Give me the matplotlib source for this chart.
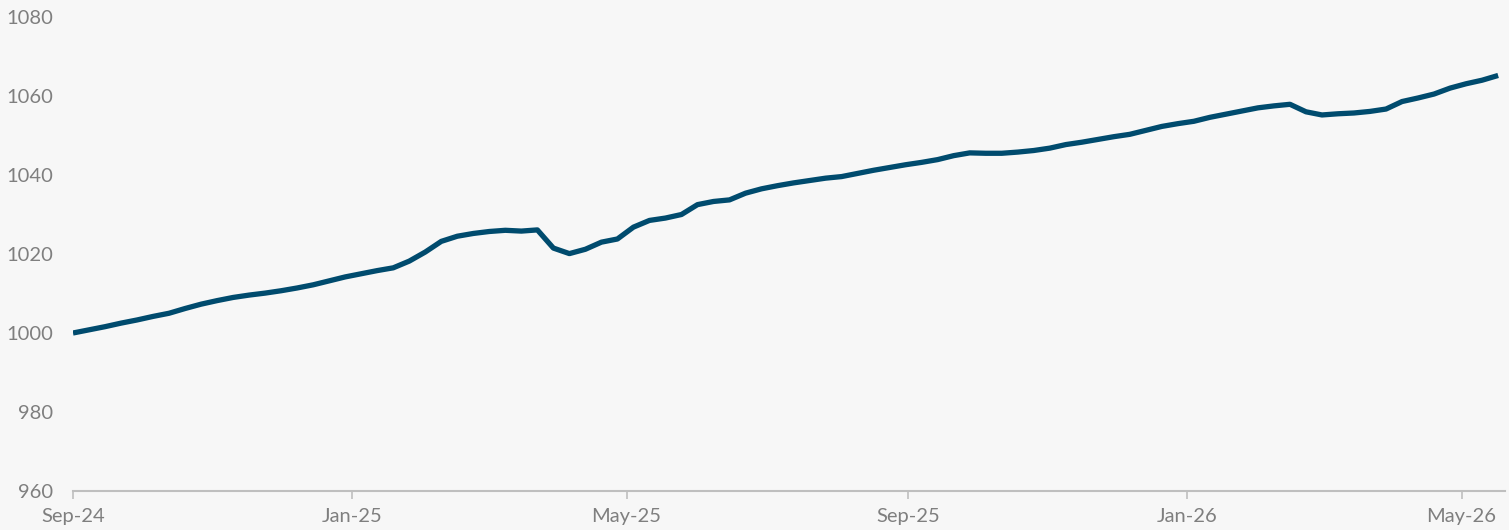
import matplotlib
matplotlib.use("Agg")
import matplotlib.pyplot as plt
import matplotlib.dates as mdates
import pandas as pd

# weekly series
start = "2024-09-01"
values = [
    1000.0, 1000.8, 1001.6, 1002.5, 1003.3, 1004.2, 1005.0, 1006.2, 1007.3, 1008.2,
    1009.0, 1009.6, 1010.1, 1010.7, 1011.4, 1012.2, 1013.2, 1014.2, 1015.0, 1015.8,
    1016.5, 1018.2, 1020.5, 1023.2, 1024.5, 1025.2, 1025.7, 1026.0, 1025.8, 1026.1,
    1021.5, 1020.1, 1021.2, 1023.0, 1023.8, 1026.8, 1028.5, 1029.1, 1030.0, 1032.5,
    1033.3, 1033.7, 1035.4, 1036.5, 1037.3, 1038.0, 1038.6, 1039.2, 1039.6, 1040.4,
    1041.2, 1041.9, 1042.6, 1043.2, 1043.9, 1044.9, 1045.6, 1045.5, 1045.5, 1045.8,
    1046.2, 1046.8, 1047.7, 1048.3, 1049.0, 1049.7, 1050.3, 1051.3, 1052.3, 1053.0,
    1053.6, 1054.6, 1055.4, 1056.2, 1057.0, 1057.5, 1057.9, 1056.0, 1055.2, 1055.5,
    1055.7, 1056.1, 1056.7, 1058.6, 1059.5, 1060.5, 1062.0, 1063.1, 1064.0, 1065.2,
]
dates = pd.date_range(start, periods=len(values), freq="7D")

y_ticks = [960, 980, 1000, 1020, 1040, 1060, 1080]
x_ticks = ["2024-09-01", "2025-01-01", "2025-05-01", "2025-09-01", "2026-01-01", "2026-05-01"]

bg = "#f7f7f7"
grey = "#7f7f7f"

plt.rcParams["font.family"] = ["Lato", "DejaVu Sans"]

fig = plt.figure(figsize=(15.09, 5.30), dpi=100, facecolor=bg)
ax = fig.add_axes([73 / 1509, 1 - 491 / 530, (1505 - 73) / 1509, (491 - 17) / 530])
ax.set_facecolor(bg)

ax.plot(dates, values, color="#004b6e", linewidth=3.8, solid_capstyle="butt",
        solid_joinstyle="round")

ax.set_ylim(960, 1080)
ax.set_yticks(y_ticks)
ax.set_xlim(pd.Timestamp("2024-09-01"), pd.Timestamp("2026-05-20"))
ax.set_xticks(pd.to_datetime(x_ticks))
ax.xaxis.set_major_formatter(mdates.DateFormatter("%b-%y"))

for s in ["top", "right", "left"]:
    ax.spines[s].set_visible(False)
ax.spines["bottom"].set_color("#bfbfbf")
ax.spines["bottom"].set_linewidth(1.5)

ax.tick_params(axis="y", length=0, pad=14, labelsize=14.5, labelcolor=grey)
ax.tick_params(axis="x", length=6, width=1.2, color="#bfbfbf", pad=6,
               labelsize=14.5, labelcolor=grey)

fig.savefig("out.png", dpi=100, facecolor=bg)
